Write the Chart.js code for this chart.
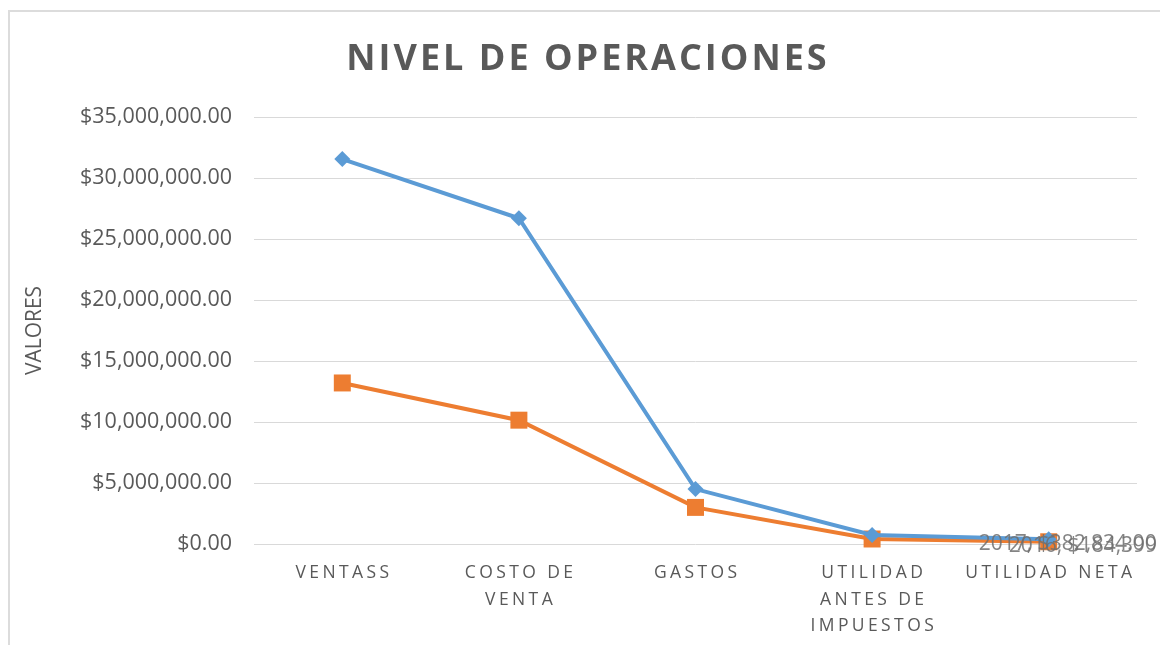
<!DOCTYPE html>
<html>
<head>
<meta charset="utf-8">
<script src="https://cdn.jsdelivr.net/npm/chart.js@4/dist/chart.umd.min.js"></script>
<style>
  html, body { margin: 0; padding: 0; background: #ffffff; }
  #wrap { position: relative; width: 1160px; height: 645px; overflow: hidden; }
  #frame { position: absolute; left: 8px; top: 10px; width: 1200px; height: 700px; border: 2px solid #dcdcdc; box-sizing: border-box; pointer-events: none; }
  canvas { position: absolute; left: 0; top: 0; }
</style>
</head>
<body>
<div id="wrap">
  <canvas id="c" width="1160" height="645"></canvas>
  <div id="frame"></div>
</div>
<script>
const chartTitle = "NIVEL DE OPERACIONES";
const yAxisTitle = "VALORES";
const categories = [["VENTASS"], ["COSTO DE", "VENTA"], ["GASTOS"], ["UTILIDAD", "ANTES DE", "IMPUESTOS"], ["UTILIDAD NETA"]];
const seriesNames = ["2017", "2016"];
const series2017 = [31550000, 26700000, 4500000, 740000, 382834];
const series2016 = [13200000, 10150000, 3000000, 410000, 184399];
const endLabels = ["2017, $382,834.00", "2016, $184,399"];
const yTickValues = [0, 5000000, 10000000, 15000000, 20000000, 25000000, 30000000, 35000000];

const FONT = "'Open Sans', 'DejaVu Sans', sans-serif";
const TEXT = "#595959";

const customText = {
  id: 'customText',
  afterDraw(chart) {
    const ctx = chart.ctx;
    const xs = chart.scales.x;
    // Title
    ctx.save();
    ctx.font = "bold 36px " + FONT;
    ctx.fillStyle = TEXT;
    ctx.textAlign = "center";
    ctx.textBaseline = "middle";
    ctx.letterSpacing = "3px";
    ctx.fillText(chartTitle, 588, 60);
    ctx.restore();
    // Category labels
    ctx.save();
    ctx.font = "17.5px " + FONT;
    ctx.fillStyle = TEXT;
    ctx.textAlign = "center";
    ctx.textBaseline = "middle";
    ctx.letterSpacing = "3.4px";
    categories.forEach((lines, i) => {
      const x = xs.getPixelForValue(i);
      lines.forEach((ln, j) => {
        ctx.fillText(ln, x + 1.7, xs.top + 29.5 + j * 26.3);
      });
    });
    ctx.restore();
    // End data labels
    ctx.save();
    ctx.font = "21px " + FONT;
    ctx.fillStyle = "rgba(110,110,110,0.85)";
    ctx.textAlign = "left";
    ctx.textBaseline = "middle";
    const offs = [-70, -40];
    chart.data.datasets.forEach((ds, k) => {
      const meta = chart.getDatasetMeta(k);
      const pt = meta.data[meta.data.length - 1];
      ctx.fillText(endLabels[k], pt.x + offs[k], pt.y + 5 - k * 1);
    });
    ctx.restore();
  }
};

new Chart(document.getElementById('c'), {
  type: 'line',
  data: {
    labels: categories,
    datasets: [
      {
        label: seriesNames[0],
        data: series2017,
        borderColor: "#5b9bd5",
        backgroundColor: "#5b9bd5",
        borderWidth: 4,
        pointStyle: 'rectRot',
        pointRadius: 8,
        pointBorderWidth: 0,
        tension: 0,
        clip: false
      },
      {
        label: seriesNames[1],
        data: series2016,
        borderColor: "#ed7d31",
        backgroundColor: "#ed7d31",
        borderWidth: 4,
        pointStyle: 'rect',
        pointRadius: 12,
        pointBorderWidth: 0,
        tension: 0,
        clip: false
      }
    ]
  },
  options: {
    responsive: false,
    animation: false,
    layout: { padding: { left: 22, right: 23, top: 117, bottom: 0 } },
    plugins: { legend: { display: false }, tooltip: { enabled: false }, title: { display: false } },
    scales: {
      x: {
        type: 'category',
        offset: true,
        grid: { display: false, drawTicks: false },
        border: { display: false },
        ticks: { display: false },
        afterFit(s) { s.height = 101; }
      },
      y: {
        min: 0,
        max: 35000000,
        afterBuildTicks(s) { s.ticks = yTickValues.map(v => ({ value: v })); },
        grid: { color: "#d9d9d9", lineWidth: 1, drawTicks: false },
        border: { display: false },
        ticks: {
          padding: 22,
          color: TEXT,
          font: { family: FONT, size: 21.5 },
          callback: v => "$" + Number(v).toLocaleString('en-US', { minimumFractionDigits: 2, maximumFractionDigits: 2 })
        },
        title: {
          display: true,
          text: yAxisTitle,
          color: TEXT,
          font: { family: FONT, size: 21 },
          padding: 0
        },
        afterFit(s) { s.width = 232; }
      }
    }
  },
  plugins: [customText]
});
</script>
</body>
</html>
